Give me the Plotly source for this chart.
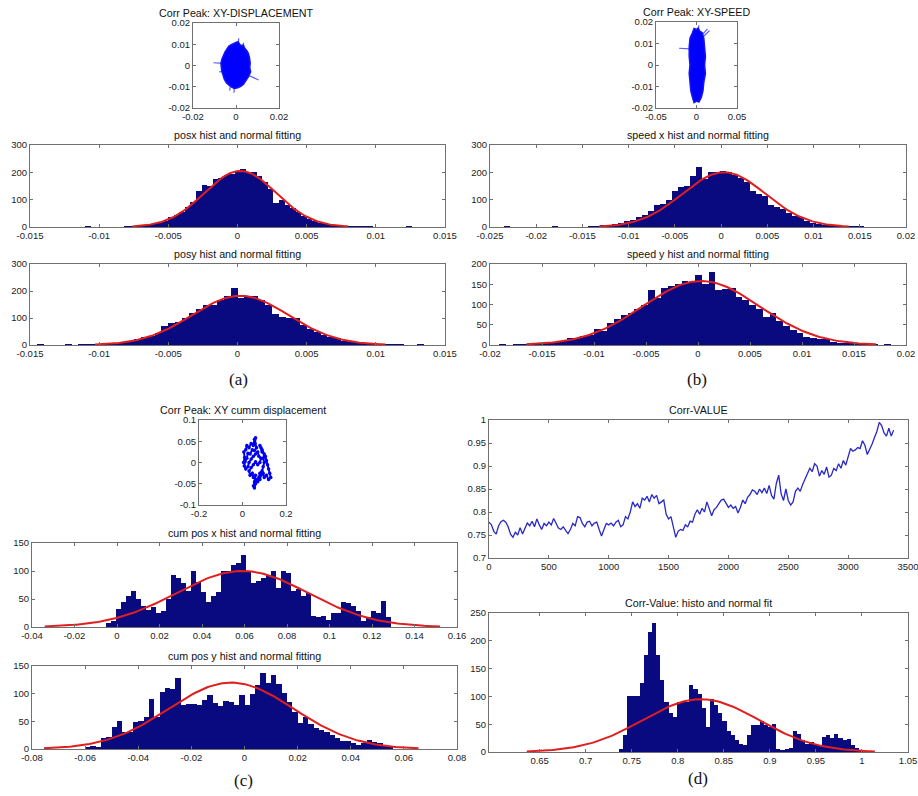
import numpy as np
import plotly.graph_objects as go

# ------------------------------------------------------------------ data
# (a) Corr Peak: XY-DISPLACEMENT  (outline of the dense trajectory cloud + stray strokes)
disp_cloud_x = [0.0000, 0.0010, 0.0018, 0.0030, 0.0034, 0.0040, 0.0052, 0.0058, 0.0063, 0.0066,
                0.0064, 0.0068, 0.0058, 0.0045, 0.0035, 0.0022, 0.0008, -0.0008, -0.0020, -0.0032,
                -0.0044, -0.0054, -0.0060, -0.0065, -0.0068, -0.0070, -0.0066, -0.0060, -0.0052, -0.0044,
                -0.0034, -0.0022, -0.0010]
disp_cloud_y = [0.0108, 0.0112, 0.0098, 0.0092, 0.0098, 0.0082, 0.0068, 0.0055, 0.0035, 0.0012,
                -0.0010, -0.0030, -0.0052, -0.0072, -0.0088, -0.0098, -0.0105, -0.0108, -0.0102, -0.0092,
                -0.0082, -0.0066, -0.0050, -0.0030, -0.0010, 0.0010, 0.0028, 0.0045, 0.0062, 0.0074,
                0.0090, 0.0098, 0.0105]
disp_spike_x = [-0.0060, -0.0105, None, 0.0055, 0.0105, None, 0.0010, 0.0013, None, -0.0008, -0.0009, None,
                -0.0026, -0.0029, None, 0.0030, 0.0036, None, -0.0060, -0.0078]
disp_spike_y = [0.0010, 0.0013, None, -0.0045, -0.0068, None, 0.0100, 0.0128, None, -0.0100, -0.0128, None,
                -0.0090, -0.0118, None, 0.0090, 0.0107, None, -0.0028, -0.0030]

# (b) Corr Peak: XY-SPEED
speed_cloud_x = [0.000, 0.002, 0.004, 0.007, 0.009, 0.010, 0.011, 0.010, 0.011, 0.009,
                 0.008, 0.006, 0.003, 0.000, -0.003, -0.005, -0.007, -0.008, -0.009, -0.008,
                 -0.009, -0.009, -0.008, -0.005, -0.003]
speed_cloud_y = [0.0165, 0.0172, 0.0158, 0.0150, 0.0125, 0.0080, 0.0040, 0.0000, -0.0040, -0.0080,
                 -0.0120, -0.0150, -0.0172, -0.0168, -0.0175, -0.0150, -0.0120, -0.0080, -0.0040, 0.0000,
                 0.0040, 0.0085, 0.0125, 0.0150, 0.0170]
speed_spike_x = [-0.008, -0.0215, None, 0.007, 0.0135, None, 0.008, 0.016, None, 0.002, 0.003]
speed_spike_y = [0.0075, 0.0078, None, 0.0140, 0.0168, None, 0.0130, 0.0160, None, 0.0160, 0.0185]

# (c) Corr Peak: XY cumm displacement (path)
cum_path_x = [0.005, 0.010, 0.006, 0.015, 0.020, 0.030, 0.040, 0.050, 0.055, 0.060,
              0.058, 0.065, 0.055, 0.045, 0.035, 0.025, 0.020, 0.012, 0.008, 0.015,
              0.025, 0.030, 0.040, 0.050, 0.060, 0.070, 0.075, 0.085, 0.080, 0.070,
              0.060, 0.050, 0.040, 0.030, 0.035, 0.045, 0.050, 0.060, 0.055, 0.050,
              0.055, 0.060, 0.065, 0.075, 0.080, 0.090, 0.095, 0.100, 0.095, 0.100,
              0.090, 0.085, 0.080, 0.090, 0.105, 0.110, 0.115, 0.120, 0.125, 0.130,
              0.120, 0.110, 0.100, 0.095, 0.085, 0.080, 0.070]
cum_path_y = [0.000, 0.012, 0.025, 0.030, 0.040, 0.035, 0.045, 0.040, 0.055, 0.058,
              0.045, 0.035, 0.028, 0.030, 0.020, 0.022, 0.010, 0.002, -0.008, -0.015,
              -0.010, 0.000, 0.008, 0.015, 0.020, 0.025, 0.015, 0.010, 0.000, -0.005,
              0.002, -0.005, -0.012, -0.020, -0.030, -0.025, -0.035, -0.030, -0.045, -0.055,
              -0.060, -0.050, -0.040, -0.035, -0.025, -0.020, -0.010, 0.000, 0.010, 0.020,
              0.025, 0.035, 0.040, 0.030, 0.015, 0.005, -0.005, -0.015, -0.025, -0.035,
              -0.040, -0.030, -0.035, -0.025, -0.030, -0.040, -0.045]

# histograms: first bin centre, bin width, counts ; normal fit (mu, sigma, peak)
posx_first, posx_width = -0.0108, 0.0004
posx_counts = [1, 0, 0, 0, 0, 0, 0, 1, 2, 3, 5, 8, 12, 18, 22, 35, 45, 55, 72, 90,
               130, 155, 150, 175, 180, 190, 195, 200, 212, 198, 200, 185, 165, 140, 88, 100, 80, 68, 55, 42,
               30, 22, 15, 10, 7, 4, 3, 2, 1, 1, 1, 1, 0, 0, 0, 0, 0, 0, 1]
posx_fit = (0.0002, 0.0026, 205)

posy_first, posy_width = -0.01425, 0.0005
posy_counts = [1, 0, 0, 0, 1, 0, 1, 1, 2, 3, 5, 7, 10, 15, 22, 28, 35, 45, 70, 80,
               85, 100, 120, 135, 150, 150, 165, 180, 210, 175, 178, 180, 165, 150, 115, 105, 100, 100, 75, 60,
               48, 38, 28, 25, 15, 12, 9, 8, 6, 3, 1, 1, 1, 0, 0, 1]
posy_fit = (0.0002, 0.0035, 182)

spx_first, spx_width = -0.0232, 0.00065
spx_counts = [1, 0, 0, 0, 0, 0, 0, 0, 1, 0, 0, 0, 0, 0, 1, 2, 4, 6, 12, 15,
              22, 25, 35, 45, 60, 80, 85, 100, 130, 145, 150, 185, 220, 175, 200, 200, 205, 200, 190, 180,
              165, 130, 120, 115, 80, 75, 65, 50, 40, 35, 22, 15, 12, 8, 5, 3, 2, 1, 1, 3, 0]
spx_fit = (0.0003, 0.0045, 200)

spy_first, spy_width = -0.0188, 0.00065
spy_counts = [1, 0, 1, 1, 2, 2, 3, 5, 7, 10, 18, 18, 22, 25, 40, 35, 55, 65, 75, 80,
              90, 100, 135, 115, 140, 145, 150, 158, 155, 172, 150, 180, 135, 138, 140, 118, 110, 100, 90, 68,
              80, 60, 48, 38, 30, 20, 18, 15, 15, 8, 6, 4, 3, 2, 1, 1, 0, 1, 0]
spy_fit = (0.0003, 0.0056, 158)

cumx_first, cumx_width = -0.003825, 0.00235
cumx_counts = [8, 10, 32, 45, 55, 65, 50, 38, 30, 35, 25, 28, 50, 92, 88, 78, 65, 100, 80, 62,
               45, 55, 62, 100, 100, 110, 115, 128, 100, 78, 82, 88, 92, 100, 70, 100, 97, 65, 68, 55,
               60, 20, 18, 20, 12, 25, 25, 45, 42, 38, 28, 10, 18, 28, 25, 47, 18]
cumx_fit = (0.059, 0.031, 100)

cumy_first, cumy_width = -0.059, 0.002
cumy_counts = [3, 5, 3, 20, 22, 40, 50, 30, 30, 48, 50, 57, 90, 58, 103, 110, 108, 128, 80, 82,
               82, 80, 88, 98, 83, 78, 87, 85, 80, 98, 80, 100, 115, 137, 120, 133, 118, 102, 85, 67,
               47, 58, 45, 38, 35, 30, 25, 20, 15, 14, 10, 8, 10, 17, 12, 10, 5, 3]
cumy_fit = (-0.005, 0.0235, 120)

cv_first, cv_width = 0.73825, 0.0045
cv_counts = [5, 30, 100, 100, 100, 125, 175, 215, 232, 175, 130, 90, 70, 63, 90, 90, 90, 120, 113, 105,
             80, 45, 95, 85, 70, 55, 38, 30, 22, 15, 12, 30, 48, 48, 55, 48, 45, 50, 5, 3,
             5, 8, 38, 32, 22, 15, 18, 15, 10, 27, 30, 25, 33, 25, 22, 24, 12, 8, 3]
cv_fit = (0.825, 0.063, 95)

# Corr-VALUE time series (every 20 frames)
corr_frame_step = 20
corr_value = [0.778, 0.772, 0.758, 0.752, 0.770, 0.779, 0.782, 0.778, 0.768, 0.752,
              0.745, 0.756, 0.750, 0.766, 0.752, 0.764, 0.776, 0.770, 0.780, 0.768,
              0.785, 0.772, 0.762, 0.775, 0.770, 0.778, 0.772, 0.786, 0.775, 0.765,
              0.762, 0.768, 0.760, 0.753, 0.762, 0.775, 0.770, 0.790, 0.788, 0.775,
              0.768, 0.778, 0.780, 0.770, 0.776, 0.778, 0.762, 0.748, 0.762, 0.775,
              0.772, 0.776, 0.770, 0.778, 0.782, 0.768, 0.772, 0.790, 0.785, 0.800,
              0.822, 0.812, 0.818, 0.808, 0.830, 0.826, 0.834, 0.822, 0.838, 0.830,
              0.836, 0.818, 0.822, 0.826, 0.795, 0.785, 0.790, 0.765, 0.745, 0.758,
              0.762, 0.760, 0.772, 0.768, 0.780, 0.778, 0.795, 0.805, 0.795, 0.808,
              0.800, 0.822, 0.808, 0.792, 0.805, 0.810, 0.818, 0.826, 0.828, 0.818,
              0.810, 0.815, 0.808, 0.812, 0.798, 0.810, 0.826, 0.818, 0.832, 0.838,
              0.848, 0.845, 0.838, 0.850, 0.842, 0.852, 0.840, 0.858, 0.836, 0.828,
              0.862, 0.880, 0.840, 0.825, 0.850, 0.825, 0.815, 0.822, 0.845, 0.852,
              0.845, 0.860, 0.872, 0.882, 0.895, 0.888, 0.905, 0.900, 0.878, 0.890,
              0.882, 0.898, 0.876, 0.880, 0.895, 0.890, 0.905, 0.895, 0.912, 0.902,
              0.920, 0.938, 0.932, 0.935, 0.940, 0.938, 0.955, 0.945, 0.925, 0.935,
              0.948, 0.962, 0.975, 0.995, 0.988, 0.972, 0.965, 0.982, 0.965, 0.978]

# tick labels
t_sa_x = ([-0.02, 0, 0.02], ["-0.02", "0", "0.02"])
t_s_y = ([-0.02, -0.01, 0, 0.01, 0.02], ["-0.02", "-0.01", "0", "0.01", "0.02"])
t_sb_x = ([-0.05, 0, 0.05], ["-0.05", "0", "0.05"])
t_pos_x = ([-0.015, -0.01, -0.005, 0, 0.005, 0.01, 0.015],
           ["-0.015", "-0.01", "-0.005", "0", "0.005", "0.01", "0.015"])
t_spx_x = ([-0.025, -0.02, -0.015, -0.01, -0.005, 0, 0.005, 0.01, 0.015, 0.02],
           ["-0.025", "-0.02", "-0.015", "-0.01", "-0.005", "0", "0.005", "0.01", "0.015", "0.02"])
t_spy_x = ([-0.02, -0.015, -0.01, -0.005, 0, 0.005, 0.01, 0.015, 0.02],
           ["-0.02", "-0.015", "-0.01", "-0.005", "0", "0.005", "0.01", "0.015", "0.02"])
t_300 = ([0, 100, 200, 300], ["0", "100", "200", "300"])
t_200 = ([0, 50, 100, 150, 200], ["0", "50", "100", "150", "200"])
t_sc_x = ([-0.2, 0, 0.2], ["-0.2", "0", "0.2"])
t_sc_y = ([-0.1, -0.05, 0, 0.05, 0.1], ["-0.1", "-0.05", "0", "0.05", "0.1"])
t_cumx_x = ([-0.04, -0.02, 0, 0.02, 0.04, 0.06, 0.08, 0.1, 0.12, 0.14, 0.16],
            ["-0.04", "-0.02", "0", "0.02", "0.04", "0.06", "0.08", "0.1", "0.12", "0.14", "0.16"])
t_cumy_x = ([-0.08, -0.06, -0.04, -0.02, 0, 0.02, 0.04, 0.06, 0.08],
            ["-0.08", "-0.06", "-0.04", "-0.02", "0", "0.02", "0.04", "0.06", "0.08"])
t_150 = ([0, 50, 100, 150], ["0", "50", "100", "150"])
t_cv_x = ([0, 500, 1000, 1500, 2000, 2500, 3000, 3500],
          ["0", "500", "1000", "1500", "2000", "2500", "3000", "3500"])
t_cv_y = ([0.7, 0.75, 0.8, 0.85, 0.9, 0.95, 1.0], ["0.7", "0.75", "0.8", "0.85", "0.9", "0.95", "1"])
t_cvh_x = ([0.65, 0.7, 0.75, 0.8, 0.85, 0.9, 0.95, 1.0, 1.05],
           ["0.65", "0.7", "0.75", "0.8", "0.85", "0.9", "0.95", "1", "1.05"])
t_250 = ([0, 50, 100, 150, 200, 250], ["0", "50", "100", "150", "200", "250"])

# ------------------------------------------------------------------ layout
W, H = 918, 796
NAVY = "#0A0A80"
RED = "#E01E1E"
BLUE = "#1414F5"
FONT = "Liberation Sans, Arial, sans-serif"

# (left, right, top, bottom) in px, xrange, xticks, yrange, yticks, title
panels = [
    ((193, 279, 23, 108), [-0.02, 0.02], t_sa_x, [-0.02, 0.02], t_s_y, "Corr Peak: XY-DISPLACEMENT"),
    ((656, 737, 22, 108), [-0.05, 0.05], t_sb_x, [-0.02, 0.02], t_s_y, "Corr Peak: XY-SPEED"),
    ((30, 445, 145, 227), [-0.015, 0.015], t_pos_x, [0, 300], t_300, "posx hist and normal fitting"),
    ((490, 906, 145, 227), [-0.025, 0.02], t_spx_x, [0, 300], t_300, "speed x hist and normal fitting"),
    ((30, 445, 264, 345), [-0.015, 0.015], t_pos_x, [0, 300], t_300, "posy hist and normal fitting"),
    ((490, 906, 264, 345), [-0.02, 0.02], t_spy_x, [0, 200], t_200, "speed y hist and normal fitting"),
    ((199, 286, 420, 505), [-0.2, 0.2], t_sc_x, [-0.1, 0.1], t_sc_y, "Corr Peak: XY cumm displacement"),
    ((32, 457, 543, 627), [-0.04, 0.16], t_cumx_x, [0, 150], t_150, "cum pos x hist and normal fitting"),
    ((32, 457, 666, 749), [-0.08, 0.08], t_cumy_x, [0, 150], t_150, "cum pos y hist and normal fitting"),
    ((489, 908, 420, 558), [0, 3500], t_cv_x, [0.7, 1.0], t_cv_y, "Corr-VALUE"),
    ((489, 908, 613, 752), [0.595, 1.05], t_cvh_x, [0, 250], t_250, "Corr-Value: histo and normal fit"),
]


def sid(i):
    return "" if i == 1 else str(i)


fig = go.Figure()
annotations = []
layout_axes = {}
for i, ((l, r, t, b), xr, xt, yr, yt, title) in enumerate(panels, start=1):
    common = dict(showline=True, linecolor="#707070", linewidth=1, mirror="ticks",
                  ticks="inside", ticklen=3, tickcolor="#707070", showgrid=False,
                  zeroline=False, tickmode="array", fixedrange=True, automargin=False,
                  ticklabeloverflow="allow",
                  tickfont=dict(family=FONT, size=9.5, color="#222222"))
    layout_axes["xaxis" + sid(i)] = dict(common, domain=[l / W, r / W], range=xr,
                                         tickvals=xt[0], ticktext=xt[1], anchor="y" + sid(i))
    layout_axes["yaxis" + sid(i)] = dict(common, domain=[1 - b / H, 1 - t / H], range=yr,
                                         tickvals=yt[0], ticktext=yt[1], anchor="x" + sid(i))
    annotations.append(dict(text=title, x=(l + r) / 2 / W, y=1 - (t - 10) / H,
                            xref="paper", yref="paper", showarrow=False,
                            xanchor="center", yanchor="middle",
                            font=dict(family=FONT, size=10.7, color="#111111")))


def add_hist(idx, first, width, counts, fit):
    centers = first + width * np.arange(len(counts))
    fig.add_trace(go.Bar(x=centers, y=counts, width=width,
                         marker=dict(color=NAVY, line=dict(width=0)),
                         xaxis="x" + sid(idx), yaxis="y" + sid(idx), showlegend=False))
    mu, sigma, peak = fit
    xs = np.linspace(mu - 3 * sigma, mu + 3 * sigma, 150)
    ys = peak * np.exp(-((xs - mu) ** 2) / (2 * sigma ** 2))
    fig.add_trace(go.Scatter(x=xs, y=ys, mode="lines", line=dict(color=RED, width=2),
                             xaxis="x" + sid(idx), yaxis="y" + sid(idx), showlegend=False))


def add_cloud(idx, cx, cy, sx, sy):
    fig.add_trace(go.Scatter(x=sx, y=sy, mode="lines", line=dict(color="#5a5af5", width=1.2),
                             xaxis="x" + sid(idx), yaxis="y" + sid(idx), showlegend=False))
    fig.add_trace(go.Scatter(x=cx + cx[:1], y=cy + cy[:1], mode="lines", fill="toself",
                             fillcolor="#0000FF", line=dict(color=BLUE, width=1.5),
                             xaxis="x" + sid(idx), yaxis="y" + sid(idx), showlegend=False))


add_cloud(1, disp_cloud_x, disp_cloud_y, disp_spike_x, disp_spike_y)
add_cloud(2, speed_cloud_x, speed_cloud_y, speed_spike_x, speed_spike_y)

add_hist(3, posx_first, posx_width, posx_counts, posx_fit)
add_hist(4, spx_first, spx_width, spx_counts, spx_fit)
add_hist(5, posy_first, posy_width, posy_counts, posy_fit)
add_hist(6, spy_first, spy_width, spy_counts, spy_fit)

fig.add_trace(go.Scatter(x=cum_path_x, y=cum_path_y, mode="lines+markers",
                         line=dict(color="#0000F0", width=2),
                         marker=dict(symbol="circle", size=3.5, color="#0000F0"),
                         xaxis="x7", yaxis="y7", showlegend=False))

add_hist(8, cumx_first, cumx_width, cumx_counts, cumx_fit)
add_hist(9, cumy_first, cumy_width, cumy_counts, cumy_fit)

corr_frames = np.arange(len(corr_value)) * corr_frame_step
fig.add_trace(go.Scatter(x=corr_frames, y=corr_value, mode="lines",
                         line=dict(color="#2828C8", width=1.3),
                         xaxis="x10", yaxis="y10", showlegend=False))

add_hist(11, cv_first, cv_width, cv_counts, cv_fit)

# sub-figure labels
for lab, (px, py) in zip(["(a)", "(b)", "(c)", "(d)"],
                         [(238, 380), (697, 380), (243, 780), (698, 778)]):
    annotations.append(dict(text=lab, x=px / W, y=1 - py / H, xref="paper", yref="paper",
                            showarrow=False, xanchor="center", yanchor="middle",
                            font=dict(family="Liberation Serif, Times New Roman, serif",
                                      size=17, color="#111111")))

fig.update_layout(width=W, height=H, margin=dict(l=0, r=0, t=0, b=0),
                  paper_bgcolor="white", plot_bgcolor="white",
                  annotations=annotations, bargap=0, **layout_axes)

fig.write_html("out.html", config={"displayModeBar": False},
               post_script="document.body.style.margin='0';")
